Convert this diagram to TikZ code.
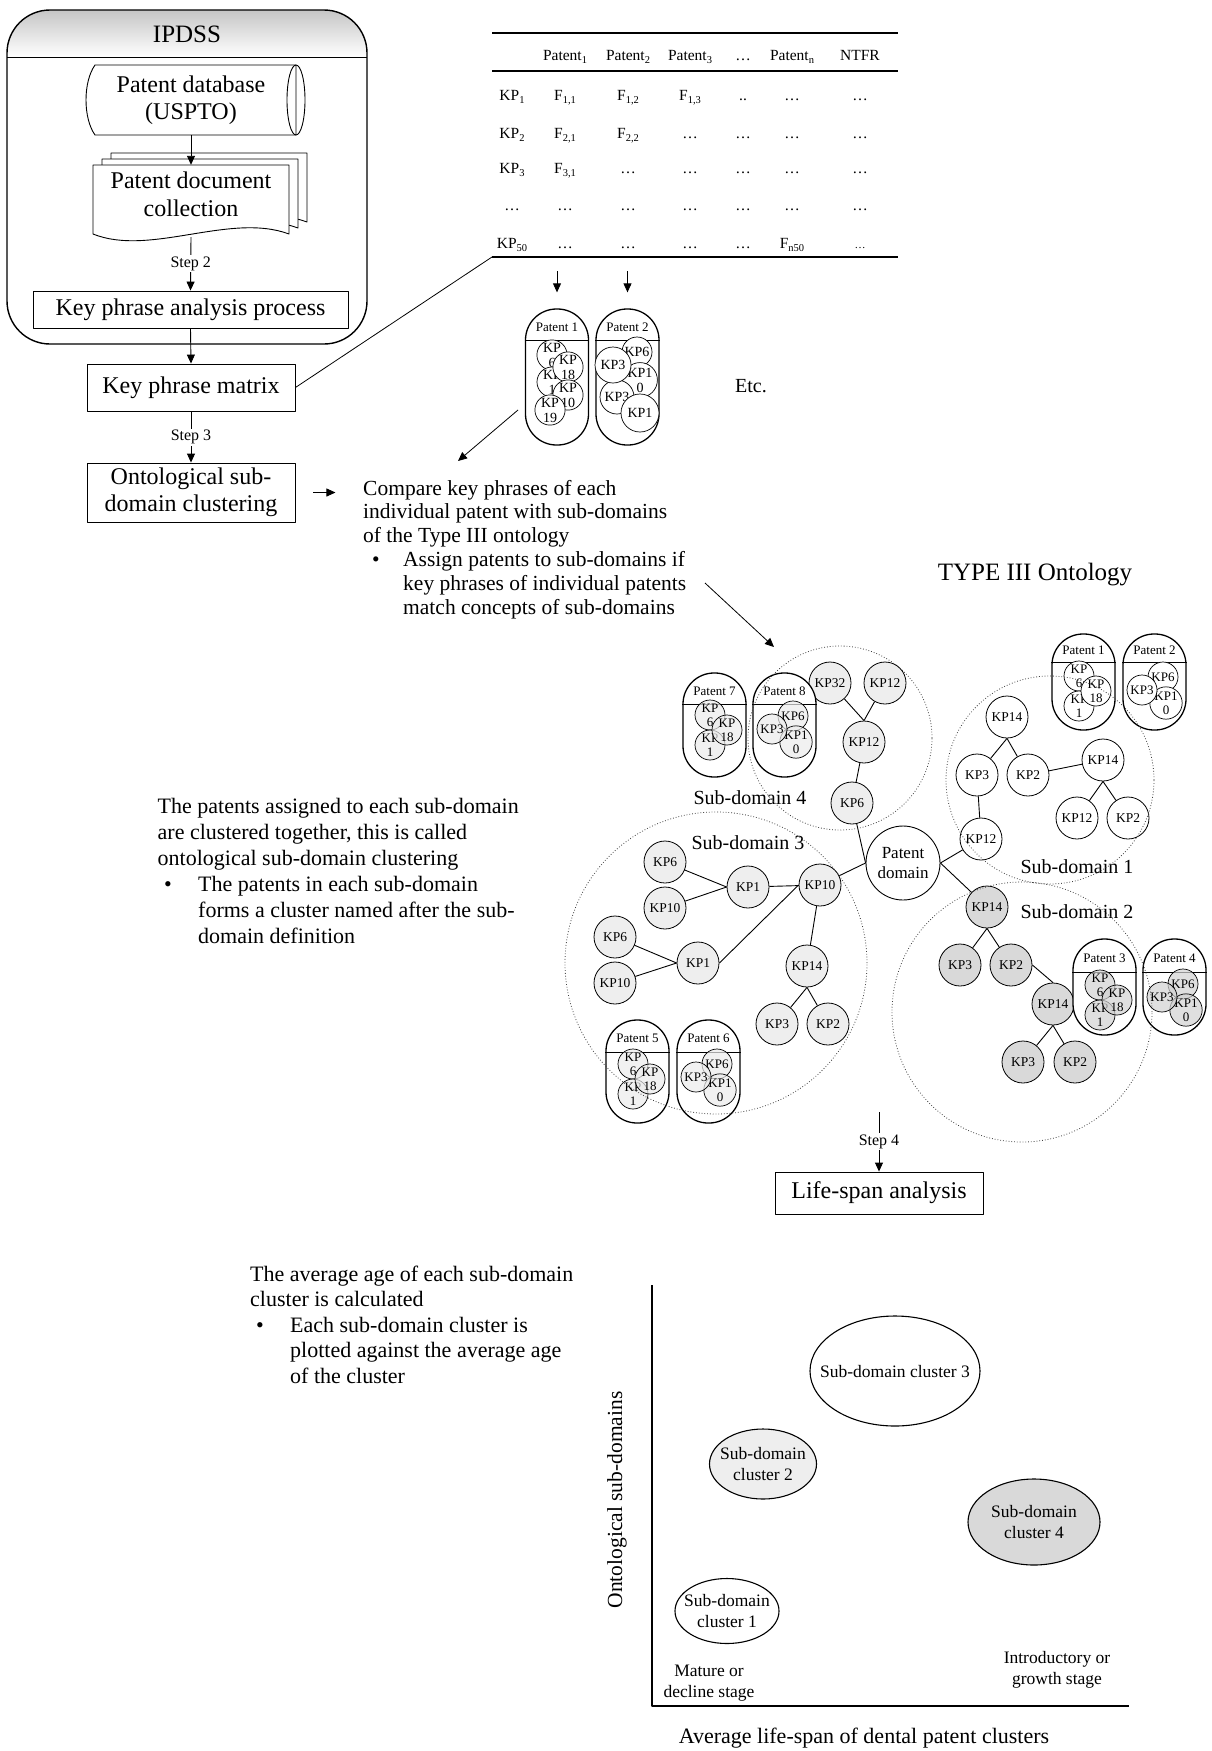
\documentclass[tikz,border=0pt]{standalone}
\usepackage{fontspec}
\setmainfont{Liberation Serif}
\usetikzlibrary{arrows.meta,shapes.geometric,calc}
\newcommand\fsz[2]{\fontsize{#1}{#2}\selectfont}
\newcommand\tsub[1]{\raisebox{-3.5pt}{\fsz{10.5}{11}#1}}

% capsule-shaped patent container: name, centre x, top y, height, header offset, label
\newcommand\patcap[6]{%
  \node[capsule, minimum height=#4pt] (#1) at (#2,{#3+#4/2}) {};
  \draw[line width=1.3pt] ([yshift=-#5pt]#1.north west) -- ([yshift=-#5pt]#1.north east);
  \node[font=\fsz{13}{15}] (#1-lbl) at (#2,{#3+#5/2+2}) {#6};
}
% three overlapping key-phrase circles (KP6, KP1, KP18)
\newcommand\minisA[4]{%
  \begin{scope}[shift={(#2,#3)}]
    \node[#4] (#1-6) at (27,42) {KP\\6};
    \node[#4] (#1-1) at (27,72) {KP\\1};
    \node[#4] (#1-18) at (44,57) {KP\\18};
  \end{scope}}
% three overlapping key-phrase circles (KP6, KP10, KP3)
\newcommand\minisB[4]{%
  \begin{scope}[shift={(#2,#3)}]
    \node[#4] (#1-6) at (40,43) {KP6};
    \node[#4] (#1-10) at (43,69) {KP1\\0};
    \node[#4] (#1-3) at (19,56) {KP3};
  \end{scope}}

\begin{document}
\begin{tikzpicture}[x=1pt, y=-1pt, line join=round,
  >={Triangle[length=9pt,width=8pt]},
  every node/.style={inner sep=0pt, text=black},
  box/.style={draw, line width=0.9pt, align=center, font=\fsz{24}{27}},
  steplbl/.style={fill=white, inner sep=1.5pt, font=\fsz{16}{18}},
  conn/.style={line width=0.9pt},
  tabtxt/.style={anchor=base, font=\fsz{15.5}{17}},
  capsule/.style={draw, line width=1.3pt, rounded corners=31pt, minimum width=63pt, fill=white},
  miniw/.style={circle, draw, line width=0.7pt, minimum size=30pt, fill=white, align=center, font=\fsz{13}{14}},
  minil/.style={miniw, fill=gray!15, fill opacity=0.7, text opacity=1},
  minid/.style={miniw, fill=gray!35, fill opacity=0.7, text opacity=1},
  kp/.style={circle, draw, line width=0.8pt, minimum size=42pt, font=\fsz{13.5}{15}},
  kpw/.style={kp, fill=white},
  kpl/.style={kp, fill=gray!13},
  kpd/.style={kp, fill=gray!30},
  sdlbl/.style={font=\fsz{20}{22}},
  sdom/.style={circle, draw=black!75, dotted, line width=0.8pt},
  para/.style={anchor=base west},
  clus/.style={ellipse, draw, line width=1.1pt},
  clustxt/.style={align=center, font=\fsz{17.5}{21.5}},
]
\useasboundingbox (0,0) rectangle (1211,1751);
\fill[white] (0,0) rectangle (1211,1751);

% ---------------- IPDSS container ----------------
\begin{scope}
  \clip[rounded corners=43pt] (7,10) rectangle (367,344);
  \shade[top color=gray!45, bottom color=white] (7,10) rectangle (367,57);
\end{scope}
\draw[line width=1.4pt, rounded corners=43pt] (7,10) rectangle (367,344);
\draw[line width=0.9pt] (7,57) -- (367,57);
\node[font=\fsz{25}{28}] (ipdss) at (187,34) {IPDSS};

% patent database (stored data symbol)
\draw[line width=0.9pt, fill=white] (95,65) -- (296,65) -- (296,135) -- (95,135)
  .. controls (83,118) and (83,82) .. (95,65) -- cycle;
\draw[line width=0.9pt] (296,100) ellipse [x radius=9pt, y radius=35pt];
\node[font=\fsz{24}{27.5}, align=center, minimum height=70pt] (db) at (191,100) {Patent database\\(USPTO)};

% document stack
\draw[line width=0.9pt, fill=white] (111,153) -- (307,153) -- (307,222)
  .. controls (248,200) and (168,245) .. (111,222) -- cycle;
\draw[line width=0.9pt, fill=white] (102,159) -- (298,159) -- (298,228)
  .. controls (239,206) and (159,251) .. (102,228) -- cycle;
\draw[line width=0.9pt, fill=white] (93,165) -- (289,165) -- (289,234)
  .. controls (230,212) and (150,257) .. (93,234) -- cycle;
\node[font=\fsz{24}{27.5}, align=center, minimum height=59pt] (doc) at (191,194.5) {Patent document\\collection};

\node[box, minimum width=315pt, minimum height=37pt] (kpa) at (190.5,309.5) {Key phrase analysis process};
\node[box, minimum width=208pt, minimum height=47pt] (kpm) at (191,387.5) {Key phrase matrix};
\node[box, minimum width=208pt, minimum height=59pt] (osc) at (191,492.5) {Ontological sub-\\domain clustering};

\draw[conn,->] (db.south) -- (doc.north);
\draw[conn,->] ([yshift=-13pt]doc.south) -- node[steplbl] (st2) {Step 2} (kpa.north);
\draw[conn,->] (kpa.south) -- (kpm.north);
\draw[conn,->] (kpm.south) -- node[steplbl] (st3) {Step 3} (osc.north);
\draw[conn,->] ([xshift=18pt]osc.east) -- ([xshift=40pt]osc.east);

% ---------------- key phrase matrix table ----------------
\draw[line width=1.8pt] (492,33) -- (898,33);
\draw[line width=1.8pt] (492,71) -- (898,71);
\draw[line width=1.8pt] (492,257) -- (898,257);
\coordinate (tabBL) at (492,257);
\draw[line width=0.8pt] (kpm.east) -- (tabBL);

\node[tabtxt] (h1) at (565,60) {Patent\tsub{1}};
\node[tabtxt] (h2) at (628,60) {Patent\tsub{2}};
\node[tabtxt] (h3) at (690,60) {Patent\tsub{3}};
\node[tabtxt] (h4) at (743,60) {…};
\node[tabtxt] (h5) at (792,60) {Patent\tsub{n}};
\node[tabtxt] (h6) at (860,60) {NTFR};

\node[tabtxt] (r1c0) at (512,100) {KP\tsub{1}};
\node[tabtxt] (r1c1) at (565,100) {F\tsub{1,1}};
\node[tabtxt] (r1c2) at (628,100) {F\tsub{1,2}};
\node[tabtxt] (r1c3) at (690,100) {F\tsub{1,3}};
\node[tabtxt] (r1c4) at (743,100) {..};
\node[tabtxt] (r1c5) at (792,100) {…};
\node[tabtxt] (r1c6) at (860,100) {…};

\node[tabtxt] (r2c0) at (512,138) {KP\tsub{2}};
\node[tabtxt] (r2c1) at (565,138) {F\tsub{2,1}};
\node[tabtxt] (r2c2) at (628,138) {F\tsub{2,2}};
\node[tabtxt] (r2c3) at (690,138) {…};
\node[tabtxt] (r2c4) at (743,138) {…};
\node[tabtxt] (r2c5) at (792,138) {…};
\node[tabtxt] (r2c6) at (860,138) {…};

\node[tabtxt] (r3c0) at (512,173) {KP\tsub{3}};
\node[tabtxt] (r3c1) at (565,173) {F\tsub{3,1}};
\node[tabtxt] (r3c2) at (628,173) {…};
\node[tabtxt] (r3c3) at (690,173) {…};
\node[tabtxt] (r3c4) at (743,173) {…};
\node[tabtxt] (r3c5) at (792,173) {…};
\node[tabtxt] (r3c6) at (860,173) {…};

\node[tabtxt] (r4c0) at (512,210) {…};
\node[tabtxt] (r4c1) at (565,210) {…};
\node[tabtxt] (r4c2) at (628,210) {…};
\node[tabtxt] (r4c3) at (690,210) {…};
\node[tabtxt] (r4c4) at (743,210) {…};
\node[tabtxt] (r4c5) at (792,210) {…};
\node[tabtxt] (r4c6) at (860,210) {…};

\node[tabtxt] (r5c0) at (512,248) {KP\tsub{50}};
\node[tabtxt] (r5c1) at (565,248) {…};
\node[tabtxt] (r5c2) at (628,248) {…};
\node[tabtxt] (r5c3) at (690,248) {…};
\node[tabtxt] (r5c4) at (743,248) {…};
\node[tabtxt] (r5c5) at (792,248) {F\tsub{n50}};
\node[tabtxt, font=\fsz{11}{12}] (r5c6) at (860,248) {…};

% ---------------- example patents ----------------
\patcap{capA}{557}{309}{136}{32}{Patent 1}
\patcap{capB}{627.5}{309}{136}{32}{Patent 2}
\node[miniw, font=\fsz{14}{15}] (capA-6) at (552,355) {KP\\6};
\node[miniw, font=\fsz{14}{15}] (capA-1) at (552,382) {KP\\1};
\node[miniw, font=\fsz{14}{15}] (capA-18) at (568,367) {KP\\18};
\node[miniw, font=\fsz{14}{15}] (capA-10) at (568,395) {KP\\10};
\node[miniw, font=\fsz{14}{15}] (capA-19) at (550,410) {KP\\19};
\node[miniw, font=\fsz{14}{15}] (capB-6) at (637,352) {KP6};
\node[miniw, font=\fsz{14}{15}, minimum size=32pt] (capB-10) at (640,380) {KP1\\0};
\node[miniw, font=\fsz{14}{15}, minimum size=34pt] (capB-2) at (617,397) {KP3};
\node[miniw, font=\fsz{14}{15}, minimum size=36pt] (capB-3) at (613,365) {KP3};
\node[miniw, font=\fsz{14}{15}, minimum size=38pt] (capB-1) at (640,413) {KP1};

\coordinate (ta1) at (557,271);
\coordinate (ta2) at (627.5,271);
\draw[conn,->] (ta1) -- ([yshift=16pt]capA.north);
\draw[conn,->] (ta2) -- ([yshift=16pt]capB.north);

\node[font=\fsz{20}{22}] (etc) at (751,386) {Etc.};

\coordinate (paout) at (518,410);
\coordinate (cmpin) at (458,461);
\draw[line width=0.8pt,->] (paout) -- (cmpin);

% ---------------- explanatory texts ----------------
\node[para, font=\fsz{21.5}{23.8}] (cmp) at (363,495) {\begin{tabular}[t]{@{}l@{}}
Compare key phrases of each\\
individual patent with sub-domains\\
of the Type III ontology\\
\makebox[40pt][l]{\hspace{9pt}\textbullet}Assign patents to sub-domains if\\
\hspace*{40pt}key phrases of individual patents\\
\hspace*{40pt}match concepts of sub-domains
\end{tabular}};

\coordinate (cmpout) at (705,583);
\coordinate (sd4tip) at (774,647);
\draw[line width=0.8pt,->] (cmpout) -- (sd4tip);

\node[font=\fsz{25}{28}] (type3) at (1035,575) {TYPE III Ontology};

\node[para, font=\fsz{22}{26}] (clpar) at (157.5,813) {\begin{tabular}[t]{@{}l@{}}
The patents assigned to each sub-domain\\
are clustered together, this is called\\
ontological sub-domain clustering\\
\makebox[40.5pt][l]{\hspace{6.5pt}\textbullet}The patents in each sub-domain\\
\hspace*{40.5pt}forms a cluster named after the sub-\\
\hspace*{40.5pt}domain definition
\end{tabular}};

% ---------------- TYPE III ontology ----------------
% sub-domain 4
\node[kpl] (s4a) at (830,683) {KP32};
\node[kpl] (s4b) at (885,683) {KP12};
\node[kpl] (s4c) at (864,742) {KP12};
\node[kpl] (s4d) at (852,803) {KP6};
% patent domain
\node[circle, draw, line width=0.9pt, fill=white, minimum size=74pt, align=center, font=\fsz{17}{20.5}] (pd) at (903,863) {Patent\\domain};
% sub-domain 1
\node[kpw] (s1a) at (1007,717) {KP14};
\node[kpw] (s1b) at (977,775) {KP3};
\node[kpw] (s1c) at (1028,775) {KP2};
\node[kpw] (s1d) at (1103,760) {KP14};
\node[kpw] (s1e) at (1077,818) {KP12};
\node[kpw] (s1f) at (1128,818) {KP2};
\node[kpw] (s1g) at (981,839) {KP12};
% sub-domain 2
\node[kpd] (s2a) at (987,907) {KP14};
\node[kpd] (s2b) at (960,965) {KP3};
\node[kpd] (s2c) at (1011,965) {KP2};
\node[kpd] (s2d) at (1053,1004) {KP14};
\node[kpd] (s2e) at (1023,1062) {KP3};
\node[kpd] (s2f) at (1075,1062) {KP2};
% sub-domain 3
\node[kpl] (s3a) at (665,862) {KP6};
\node[kpl] (s3b) at (665,908) {KP10};
\node[kpl] (s3c) at (748,887) {KP1};
\node[kpl] (s3d) at (820,885) {KP10};
\node[kpl] (s3e) at (615,937) {KP6};
\node[kpl] (s3f) at (615,983) {KP10};
\node[kpl] (s3g) at (698,963) {KP1};
\node[kpl] (s3h) at (807,966) {KP14};
\node[kpl] (s3i) at (777,1024) {KP3};
\node[kpl] (s3j) at (828,1024) {KP2};

\draw[conn] (s4a) -- (s4c.north);
\draw[conn] (s4b) -- (s4c.north);
\draw[conn] (s4c) -- (s4d);
\draw[conn] (s4d) -- (pd.west);
\draw[conn] (s3d) -- (pd.west);
\draw[conn] (pd.east) -- (s1g);
\draw[conn] (pd.east) -- (s2a);
\draw[conn] (s1a.south) -- (s1b);
\draw[conn] (s1a.south) -- (s1c);
\draw[conn] (s1c) -- (s1d);
\draw[conn] (s1d.south) -- (s1e);
\draw[conn] (s1d.south) -- (s1f);
\draw[conn] (s1b) -- (s1g);
\draw[conn] (s2a.south) -- (s2b);
\draw[conn] (s2a.south) -- (s2c);
\draw[conn] (s2c.east) -- (s2d.north);
\draw[conn] (s2d.south) -- (s2e);
\draw[conn] (s2d.south) -- (s2f);
\draw[conn] (s3a) -- (s3c.west);
\draw[conn] (s3b) -- (s3c.west);
\draw[conn] (s3c) -- (s3d);
\draw[conn] (s3e) -- (s3g.west);
\draw[conn] (s3f) -- (s3g.west);
\draw[conn] (s3g.east) -- (s3d.west);
\draw[conn] (s3d) -- (s3h);
\draw[conn] (s3h.south) -- (s3i);
\draw[conn] (s3h.south) -- (s3j);

% patents assigned to sub-domains
\patcap{p7}{714.5}{673}{104}{32}{Patent 7}
\minisA{p7}{683}{673}{minil}
\patcap{p8}{784.5}{673}{104}{32}{Patent 8}
\minisB{p8}{753}{673}{minil}
\patcap{p1s}{1083.5}{634}{96}{29}{Patent 1}
\minisA{p1s}{1052}{634}{miniw}
\patcap{p2s}{1154.5}{634}{96}{29}{Patent 2}
\minisB{p2s}{1123}{634}{miniw}
\patcap{p3}{1104.5}{939}{96}{34}{Patent 3}
\minisA{p3}{1073}{943}{minid}
\patcap{p4}{1174.5}{939}{96}{34}{Patent 4}
\minisB{p4}{1143}{941}{minid}
\patcap{p5}{637.5}{1020}{103}{33}{Patent 5}
\minisA{p5}{606}{1022}{minil}
\patcap{p6}{708.5}{1020}{103}{33}{Patent 6}
\minisB{p6}{677}{1021}{minil}

\node[sdlbl] (sd4l) at (750,798) {Sub-domain 4};
\node[sdlbl] (sd3l) at (748,843) {Sub-domain 3};
\node[sdlbl] (sd1l) at (1077,867) {Sub-domain 1};
\node[sdlbl] (sd2l) at (1077,912) {Sub-domain 2};

% sub-domain boundaries
\node[sdom, minimum size=184pt] (sd4) at (840,738) {};
\node[sdom, minimum size=208pt] (sd1) at (1050,780) {};
\node[sdom, minimum size=260pt] (sd2) at (1022,1012) {};
\node[sdom, minimum size=302pt] (sd3) at (716,963) {};

% ---------------- life-span analysis ----------------
\node[box, minimum width=208pt, minimum height=42pt] (lsa) at (879,1193) {Life-span analysis};
\coordinate (s4top) at (879,1112);
\draw[conn,->] (s4top) -- node[steplbl] (st4) {Step 4} (lsa.north);

\node[para, font=\fsz{22}{25.5}] (avpar) at (250,1281) {\begin{tabular}[t]{@{}l@{}}
The average age of each sub-domain\\
cluster is calculated\\
\makebox[40pt][l]{\hspace{6pt}\textbullet}Each sub-domain cluster is\\
\hspace*{40pt}plotted against the average age\\
\hspace*{40pt}of the cluster
\end{tabular}};

% chart
\draw[line width=1.5pt] (652,1285) -- (652,1706) -- (1129,1706);
\node[clus, minimum width=170pt, minimum height=110pt, fill=white] (c3) at (895,1371) {};
\node[clustxt] (c3t) at (c3.center) {Sub-domain cluster 3};
\node[clus, minimum width=107pt, minimum height=70pt, fill=gray!13] (c2) at (763,1464) {};
\node[clustxt] (c2t) at (c2.center) {Sub-domain\\cluster 2};
\node[clus, minimum width=132pt, minimum height=86pt, fill=gray!30] (c4) at (1034,1522) {};
\node[clustxt] (c4t) at (c4.center) {Sub-domain\\cluster 4};
\node[clus, minimum width=104pt, minimum height=65pt, fill=white] (c1) at (727,1611) {};
\node[clustxt] (c1t) at (c1.center) {Sub-domain\\cluster 1};

\node[align=center, font=\fsz{17.5}{20.5}] (mature) at (709,1683) {Mature or\\decline stage};
\node[align=center, font=\fsz{17.5}{20.5}] (intro) at (1057,1670) {Introductory or\\growth stage};
\node[font=\fsz{22}{24}] (xlab) at (864,1738) {Average life-span of dental patent clusters};
\node[rotate=90, font=\fsz{21.5}{24}] (ylab) at (617,1500) {Ontological sub-domains};

\end{tikzpicture}
\end{document}
